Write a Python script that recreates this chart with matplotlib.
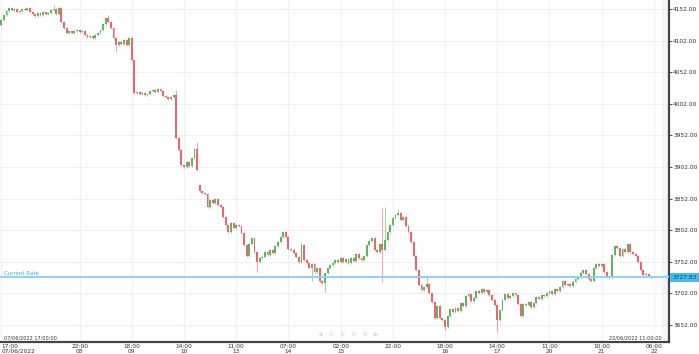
import numpy as np
import matplotlib
matplotlib.use("Agg")
import matplotlib.pyplot as plt

# Hourly closes, 07/06/2022 17:00 -> 22/06/2022 06:00
closes = [
    4135, 4142, 4149, 4154, 4150, 4152, 4147, 4149, 4152, 4150,
    4154, 4147, 4144, 4141, 4146, 4142, 4147, 4144, 4146, 4150,
    4152, 4144, 4154, 4131, 4122, 4114, 4117, 4114, 4117, 4119,
    4116, 4117, 4111, 4108, 4109, 4106, 4111, 4114, 4119, 4128,
    4138, 4131, 4122, 4106, 4095, 4100, 4097, 4103, 4095, 4106,
    4071, 4019, 4021, 4018, 4019, 4016, 4018, 4022, 4024, 4021,
    4025, 4022, 4014, 4013, 4010, 4013, 4016, 3948, 3929, 3905,
    3902, 3910, 3904, 3916, 3931, 3897, 3864, 3861, 3859, 3839,
    3850, 3845, 3851, 3842, 3839, 3823, 3811, 3799, 3813, 3805,
    3811, 3809, 3798, 3779, 3761, 3780, 3790, 3767, 3752, 3758,
    3760, 3767, 3763, 3771, 3766, 3777, 3783, 3791, 3799, 3791,
    3772, 3771, 3766, 3760, 3752, 3779, 3755, 3750, 3742, 3749,
    3736, 3742, 3722, 3719, 3734, 3742, 3747, 3750, 3755, 3752,
    3758, 3752, 3756, 3750, 3758, 3753, 3764, 3758, 3755, 3761,
    3779, 3785, 3790, 3771, 3767, 3780, 3771, 3786, 3799, 3810,
    3821, 3826, 3829, 3818, 3823, 3809, 3799, 3783, 3761, 3739,
    3715, 3707, 3712, 3717, 3702, 3688, 3663, 3682, 3663, 3660,
    3649, 3666, 3677, 3673, 3679, 3674, 3687, 3682, 3698, 3701,
    3690, 3695, 3706, 3703, 3709, 3704, 3707, 3699, 3692, 3684,
    3660, 3676, 3692, 3701, 3695, 3698, 3703, 3699, 3685, 3666,
    3685, 3684, 3688, 3681, 3687, 3696, 3693, 3699, 3698, 3703,
    3706, 3701, 3709, 3706, 3712, 3722, 3715, 3717, 3714, 3720,
    3725, 3728, 3734, 3739, 3733, 3725, 3722, 3742, 3749, 3745,
    3749, 3736, 3728, 3726, 3763, 3777, 3774, 3761, 3772, 3767,
    3780, 3767, 3764, 3761, 3752, 3739, 3731, 3733, 3730, 3727.83,
]
first_open = 4126
gap_opens = {76: 3874}          # weekend gap
wick_highs = {20: 4158, 41: 4142, 67: 4024, 75: 3942, 109: 3796, 115: 3783,
              146: 3837, 147: 3839, 152: 3834, 163: 3731}
wick_lows = {44: 4084, 98: 3736, 119: 3721, 124: 3704, 146: 3720, 170: 3644, 190: 3641}
current_rate = 3727.83

tick_idx = [0, 30, 50, 70, 90, 110, 130, 150, 170, 190, 210, 230, 250]
tick_labels = ["17:00\n07/06/2022", "22:00\n08", "18:00\n09", "14:00\n10", "11:00\n13",
               "07:00\n14", "02:00\n15", "22:00", "18:00\n16", "14:00\n17",
               "11:00\n20", "10:00\n21", "06:00\n22"]
price_ticks = [3652, 3702, 3752, 3802, 3852, 3902, 3952, 4002, 4052, 4102, 4152]

closes = np.array(closes, dtype=float)
opens = np.concatenate([[first_open], closes[:-1]])
for k, v in gap_opens.items():
    opens[k] = v
highs = np.maximum(opens, closes) + 1.5
lows = np.minimum(opens, closes) - 1.5
for k, v in wick_highs.items():
    highs[k] = max(highs[k], v)
for k, v in wick_lows.items():
    lows[k] = min(lows[k], v)

green = "#5cb85c"
red = "#f0646e"
idx = np.arange(len(closes))
up = closes >= opens
cols = np.where(up, green, red)

fig = plt.figure(figsize=(6.99, 3.54), dpi=100)
ax = fig.add_axes([0, 12 / 354, 669 / 699, 342 / 354])

ax.axvspan(253.3, 256, color="#f6f6f6", zorder=0, lw=0)
for t in tick_idx:
    ax.axvline(t, color="#f1f1f1", lw=0.8, zorder=0)
for p in price_ticks:
    ax.axhline(p, color="#f1f1f1", lw=0.8, zorder=0)

ax.vlines(idx, lows, highs, colors=cols, lw=0.8, alpha=0.55, zorder=2)
body = np.maximum(np.abs(closes - opens), 1.2)
ax.bar(idx, body, bottom=np.minimum(opens, closes), width=0.72,
       color=cols, lw=0, zorder=3)

ax.axhline(current_rate, color="#8dd3ee", lw=1.4, zorder=4)
ax.text(1, current_rate + 1.5, "Current Rate", color="#3aaee0", fontsize=4,
        va="bottom", ha="left")
ax.text(1.005, current_rate, "3727.83", transform=ax.get_yaxis_transform(),
        fontsize=4.2, color="#1d3550", va="center", ha="left",
        bbox=dict(boxstyle="square,pad=0.35", fc="#45bdec", ec="none"))

ax.text(1, 3628, "07/06/2022 17:00:00", fontsize=3.6, color="#333333",
        ha="left", va="bottom")
ax.text(253, 3628, "22/06/2022 11:00:00", fontsize=3.6, color="#333333",
        ha="right", va="bottom", bbox=dict(boxstyle="square,pad=0.2", fc="white", ec="none"))
ax.text(133, 3636, "\u25c0   \u2296   \u2295   \u2296   \u2295   \u25b6", fontsize=4.5,
        color="#dcdcdc", ha="center", va="center")

ax.set_xlim(-0.5, 255.8)
ax.set_ylim(3625.1, 4166.2)
ax.set_xticks(tick_idx)
ax.set_xticklabels(tick_labels, fontsize=4.2, color="#333333", linespacing=0.95)
ax.get_xticklabels()[0].set_ha("left")
ax.set_yticks(price_ticks)
ax.set_yticklabels([f"{p:.2f}" for p in price_ticks], fontsize=4.2, color="#333333")
ax.yaxis.tick_right()
ax.tick_params(axis="y", length=2, width=0.6, pad=1, colors="#333333")
ax.tick_params(axis="x", length=0, pad=1.5)
for s in ["top", "left"]:
    ax.spines[s].set_visible(False)
ax.spines["right"].set_linewidth(1.6)
ax.spines["bottom"].set_linewidth(1.6)
ax.spines["right"].set_color("#444444")
ax.spines["bottom"].set_color("#444444")

fig.savefig("out.png", dpi=100)
